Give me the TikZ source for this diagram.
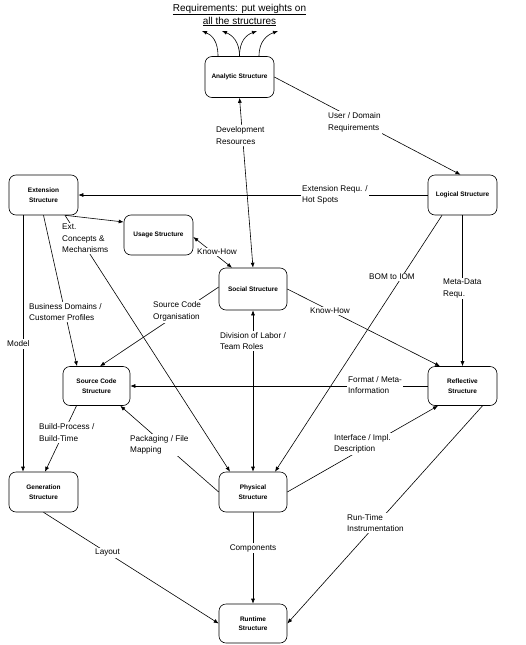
\documentclass[tikz,border=0pt]{standalone}
\usepackage{fontspec}
\setmainfont{Liberation Sans}
\usetikzlibrary{arrows.meta}
\begin{document}
\begin{tikzpicture}[x=1pt,y=-1pt,
  box/.style={draw, line width=0.6pt, rounded corners=7pt, minimum width=69pt, minimum height=40pt,
    inner sep=1pt, align=center, font=\fontsize{6.5}{9.5}\selectfont\bfseries},
  lbl/.style={fill=white, inner sep=1.5pt, align=left, anchor=west, font=\fontsize{8.2}{11.5}\selectfont},
  conn/.style={line width=0.6pt, -{Latex[length=5pt,width=4pt]}},
  both/.style={line width=0.6pt, {Latex[length=5pt,width=4pt]}-{Latex[length=5pt,width=4pt]}},
  plain/.style={line width=0.6pt}]
\useasboundingbox (0,0) rectangle (525,645);
% title
\node[align=center, font=\fontsize{10}{13}\selectfont] (title) at (239.5,15)
  {\underline{Requirements: put weights on}\\\underline{all the structures}};
% boxes
\node[box, minimum height=41pt] (analytic) at (239.5,77) {Analytic Structure};
\node[box] (extension) at (43.5,195) {Extension\\Structure};
\node[box] (usage) at (158.5,235) {Usage Structure};
\node[box] (logical) at (462.5,195) {Logical Structure};
\node[box, minimum width=68pt, minimum height=42pt] (social) at (253,289) {Social Structure};
\node[box, minimum width=67pt, minimum height=39pt] (source) at (96.5,386) {Source Code\\Structure};
\node[box, minimum height=39pt] (reflective) at (462.5,386) {Reflective\\Structure};
\node[box] (generation) at (43.5,492) {Generation\\Structure};
\node[box, minimum width=68pt] (physical) at (253,492) {Physical\\Structure};
\node[box, minimum width=68pt, minimum height=39pt] (runtime) at (253,623.5) {Runtime\\Structure};
% top arrows
\coordinate (r1) at (202,31);
\coordinate (r2) at (222,31);
\coordinate (r3) at (257,31);
\coordinate (r4) at (278,31);
\draw[conn] ([xshift=-21.5pt]analytic.north) .. controls +(0,-15) and +(10,4) .. (r1);
\draw[conn] (analytic.north) .. controls +(0,-15) and +(10,4) .. (r2);
\draw[conn] (analytic.north) .. controls +(0,-15) and +(-11,4) .. (r3);
\draw[conn] ([xshift=19.5pt]analytic.north) .. controls +(0,-15) and +(-11,4) .. (r4);
% connectors
\draw[conn] (analytic.east) -- ([xshift=-2pt]logical.north);
\draw[both] (analytic.south) -- (social.north);
\draw[conn] (logical.west) -- (extension.east);
\draw[conn] ([xshift=21.5pt]extension.south) -- ([yshift=13pt]usage.west);
\draw[conn] ([xshift=21.5pt]extension.south) -- ([xshift=-23pt]physical.north);
\draw[both] ([yshift=-2pt]usage.east) -- ([xshift=-21pt]social.north);
\draw[conn] (extension.south) -- ([xshift=-19.5pt]source.north);
\draw[conn] ([xshift=-20.5pt]extension.south) -- ([xshift=-20.5pt]generation.north);
\draw[conn] ([yshift=2pt]social.west) -- ([xshift=3.5pt]source.north);
\draw[conn] (social.east) -- ([xshift=-22.5pt]reflective.north);
\draw[both] (social.south) -- (physical.north);
\draw[conn] ([xshift=-20.5pt]logical.south) -- ([xshift=22pt]physical.north);
\draw[conn] (logical.south) -- (reflective.north);
\draw[conn] (reflective.west) -- (source.east);
\draw[conn] (physical.west) -- ([xshift=-10pt]source.south east);
\draw[conn] (physical.east) -- ([xshift=-24.5pt]reflective.south);
\draw[conn] ([xshift=20pt]reflective.south) -- (runtime.east);
\draw[conn] (generation.south) -- (runtime.west);
\draw[conn] (physical.south) -- (runtime.north);
\draw[conn] ([xshift=-20pt]source.south) -- ([xshift=1.5pt]generation.north);
% labels
\node[lbl] (l1) at (326.5,122.5) {User / Domain\\Requirements};
\node[lbl] (l2) at (214.5,135.5) {Development\\Resources};
\node[lbl] (l3) at (300.5,195) {Extension Requ. /\\Hot Spots};
\node[lbl] (l4) at (60.5,238.5) {Ext.\\Concepts \&\\Mechanisms};
\node[lbl] (l5) at (195.5,252) {Know-How};
\node[lbl] (l6) at (27.5,312) {Business Domains /\\Customer Profiles};
\node[lbl] (l7) at (5.5,344) {Model};
\node[lbl] (l8) at (151.5,311.5) {Source Code\\Organisation};
\node[lbl] (l9) at (308.5,311) {Know-How};
\node[lbl] (l10) at (218.5,341) {Division of Labor /\\Team Roles};
\node[lbl] (l11) at (367.5,277) {BOM to IOM};
\node[lbl] (l12) at (441.5,288.5) {Meta-Data\\Requ.};
\node[lbl] (l13) at (346.5,385) {Format / Meta-\\Information};
\node[lbl] (l14) at (128.5,445) {Packaging / File\\Mapping};
\node[lbl] (l15) at (332.5,444) {Interface / Impl.\\Description};
\node[lbl] (l16) at (345.5,523) {Run-Time\\Instrumentation};
\node[lbl] (l17) at (93.5,553) {Layout};
\node[lbl, anchor=center] (l18) at (253,548) {Components};
\node[lbl] (l19) at (37.5,432.5) {Build-Process /\\Build-Time};
\end{tikzpicture}
\end{document}
